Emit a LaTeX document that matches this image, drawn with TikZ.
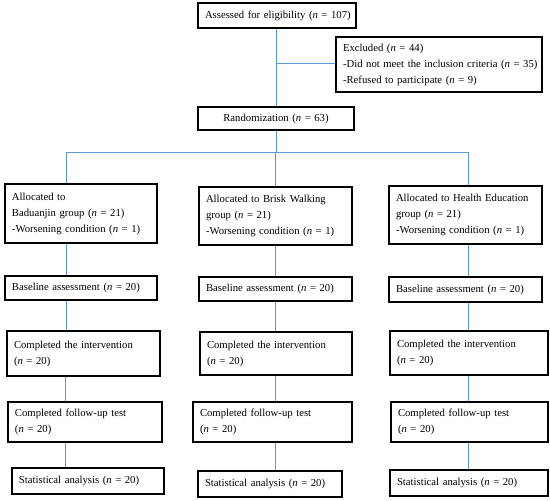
\documentclass[tikz,border=0pt]{standalone}
\usepackage{fontspec}
\setmainfont{Liberation Serif}
\newcommand{\nn}{\textit{n}}
\newcommand{\tl}[1]{\mbox{#1}}
\begin{document}
\begin{tikzpicture}[x=1pt,y=-1pt,
  box/.style={draw=black, line width=1.4pt, fill=white, inner xsep=7pt, inner ysep=0pt,
    align=left, font=\fontsize{10.7}{16}\selectfont, anchor=center},
  cbox/.style={box, align=center},
  link/.style={draw={rgb,255:red,91;green,155;blue,213}, line width=1pt}]
\useasboundingbox (0,0) rectangle (550,501);
% top
\node[cbox, text width=144pt, minimum height=25pt] (A) at (277,15.5) {\tl{Assessed for eligibility (\nn{} = 107)}};
\node[box, text width=192pt, minimum height=55pt] (E) at (439,64.5) {\tl{Excluded (\nn{} = 44)}\\\tl{-Did not meet the inclusion criteria (\nn{} = 35)}\\\tl{-Refused to participate (\nn{} = 9)}};
\node[cbox, text width=142pt, minimum height=23pt] (R) at (276,118.5) {\tl{Randomization (\nn{} = 63)}};
% left column
\node[box, text width=138pt, minimum height=59pt] (L1) at (81,213.5) {\tl{Allocated to}\\\tl{Baduanjin group (\nn{} = 21)}\\\tl{-Worsening condition (\nn{} = 1)}};
\node[box, text width=138pt, minimum height=24pt] (L2) at (81,288) {\tl{Baseline assessment (\nn{} = 20)}};
\node[box, text width=139pt, minimum height=45pt] (L3) at (83.5,353.5) {\tl{Completed the intervention}\\\tl{(\nn{} = 20)}};
\node[box, text width=140pt, minimum height=40pt] (L4) at (85,422) {\tl{Completed follow-up test}\\\tl{(\nn{} = 20)}};
\node[box, text width=138pt, minimum height=26pt] (L5) at (88,481) {\tl{Statistical analysis (\nn{} = 20)}};
% middle column
\node[box, text width=139pt, minimum height=58pt] (M1) at (275.5,216) {\tl{Allocated to Brisk Walking}\\\tl{group (\nn{} = 21)}\\\tl{-Worsening condition (\nn{} = 1)}};
\node[box, text width=139pt, minimum height=24pt] (M2) at (275.5,289) {\tl{Baseline assessment (\nn{} = 20)}};
\node[box, text width=138pt, minimum height=43pt] (M3) at (276,353.5) {\tl{Completed the intervention}\\\tl{(\nn{} = 20)}};
\node[box, text width=145pt, minimum height=40pt] (M4) at (272.5,422) {\tl{Completed follow-up test}\\\tl{(\nn{} = 20)}};
\node[box, text width=130pt, minimum height=26pt] (M5) at (270,484) {\tl{Statistical analysis (\nn{} = 20)}};
% right column
\node[box, text width=139pt, minimum height=58pt] (R1) at (465.5,215) {\tl{Allocated to Health Education}\\\tl{group (\nn{} = 21)}\\\tl{-Worsening condition (\nn{} = 1)}};
\node[box, text width=139pt, minimum height=25pt] (R2) at (465.5,289.5) {\tl{Baseline assessment (\nn{} = 20)}};
\node[box, text width=144pt, minimum height=44pt] (R3) at (469,353) {\tl{Completed the intervention}\\\tl{(\nn{} = 20)}};
\node[box, text width=143pt, minimum height=40pt] (R4) at (469.5,422) {\tl{Completed follow-up test}\\\tl{(\nn{} = 20)}};
\node[box, text width=144pt, minimum height=26pt] (R5) at (469,483) {\tl{Statistical analysis (\nn{} = 20)}};
% coordinates
\coordinate (cm) at (276,0);
\coordinate (ej) at (276,63);
\coordinate (bm) at (275,152);
\coordinate (bl) at (66,152);
\coordinate (br) at (468,152);
\coordinate (cl) at (66,0);
\coordinate (cl2) at (65,0);
\coordinate (cr) at (468,0);
% connectors
\draw[link] (A.south -| cm) -- (R.north -| cm);
\draw[link] (ej) -- (ej -| E.west);
\draw[link] (R.south -| cm) -- (cm |- bm);
\draw[link] (bl) -- (br);
\draw[link] (bl) -- (L1.north -| bl);
\draw[link] (bm) -- (M1.north -| bm);
\draw[link] (br) -- (R1.north -| br);
\draw[link] (L1.south -| cl) -- (L2.north -| cl);
\draw[link] (L2.south -| cl) -- (L3.north -| cl);
\draw[link] (L3.south -| cl2) -- (L4.north -| cl2);
\draw[link] (L4.south -| cl2) -- (L5.north -| cl2);
\draw[link] (M1.south -| bm) -- (M2.north -| bm);
\draw[link] (M2.south -| bm) -- (M3.north -| bm);
\draw[link] (M3.south -| bm) -- (M4.north -| bm);
\draw[link] (M4.south -| bm) -- (M5.north -| bm);
\draw[link] (R1.south -| cr) -- (R2.north -| cr);
\draw[link] (R2.south -| cr) -- (R3.north -| cr);
\draw[link] (R3.south -| cr) -- (R4.north -| cr);
\draw[link] (R4.south -| cr) -- (R5.north -| cr);
\end{tikzpicture}
\end{document}
